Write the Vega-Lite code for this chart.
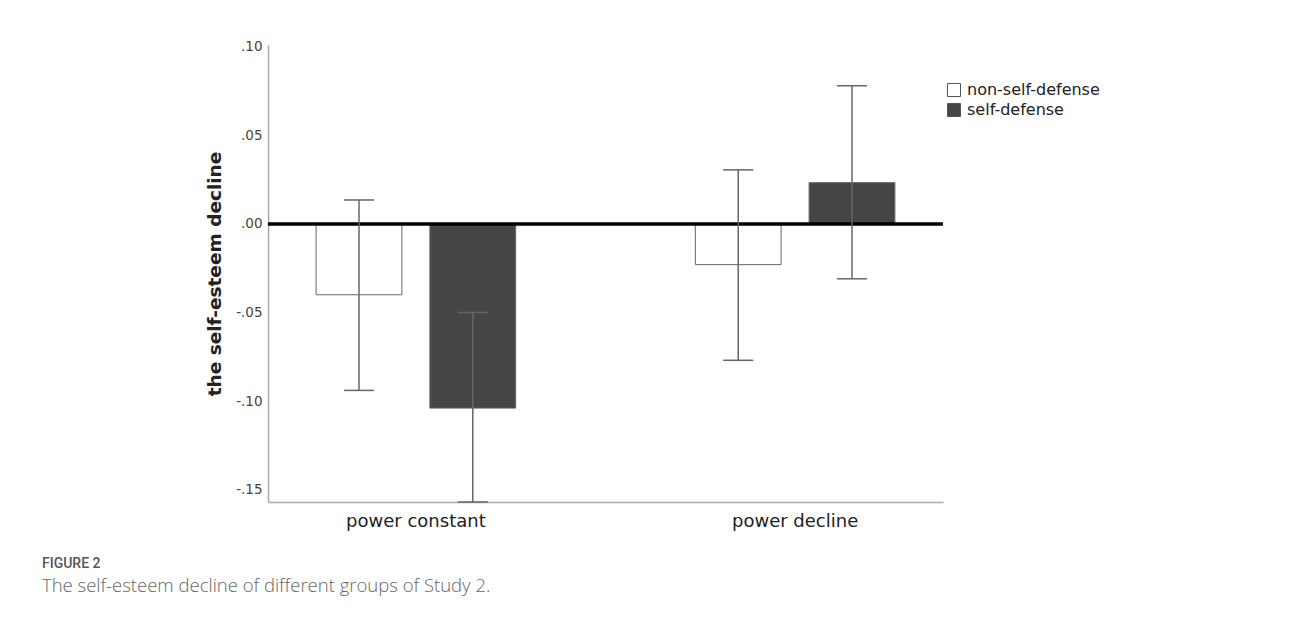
{
  "$schema": "https://vega.github.io/schema/vega-lite/v6.json",
  "width": 675,
  "height": 457,
  "autosize": {"type": "none"},
  "padding": {"left": 268, "top": 45, "right": 348, "bottom": 121},
  "background": "white",
  "data": {
    "values": [
      {"power": "power constant", "group": "non-self-defense", "mean": -0.040, "lo": -0.094, "hi": 0.0135},
      {"power": "power constant", "group": "self-defense", "mean": -0.104, "lo": -0.157, "hi": -0.050},
      {"power": "power decline", "group": "non-self-defense", "mean": -0.023, "lo": -0.077, "hi": 0.0305},
      {"power": "power decline", "group": "self-defense", "mean": 0.0233, "lo": -0.031, "hi": 0.078}
    ]
  },
  "title": {
    "text": "FIGURE 2",
    "subtitle": "The self-esteem decline of different groups of Study 2.",
    "orient": "bottom",
    "anchor": "start",
    "frame": "group",
    "dx": -226,
    "offset": 27,
    "font": "Roboto",
    "fontSize": 14,
    "fontWeight": 500,
    "color": "#555555",
    "subtitleFont": "Open Sans",
    "subtitleFontSize": 18.5,
    "subtitleFontWeight": 300,
    "subtitleColor": "#666666",
    "subtitlePadding": 6
  },
  "layer": [
    {
      "mark": {"type": "bar", "stroke": "#666666", "strokeWidth": 1},
      "encoding": {
        "x": {"field": "power", "type": "nominal", "sort": ["power constant", "power decline"], "scale": {"paddingInner": 0.4, "paddingOuter": 0.09}, "title": null,
          "axis": {"labelFont": "DejaVu Sans", "labelFontSize": 18, "labelFontWeight": 500, "labelColor": "#222222", "labelPadding": 10, "labelAngle": 0, "ticks": false, "domainColor": "#aaaaaa", "domainWidth": 1.5}},
        "xOffset": {"field": "group", "type": "nominal", "sort": ["non-self-defense", "self-defense"], "scale": {"paddingInner": 0.246, "paddingOuter": 0.123}},
        "y": {"field": "mean", "type": "quantitative", "title": "the self-esteem decline", "scale": {"domain": [-0.157, 0.101], "nice": false, "zero": false},
          "axis": {"values": [-0.15, -0.1, -0.05, 0, 0.05, 0.1],
            "labelExpr": "replace(replace(format(datum.value, '.2f'), '0.', '.'), '\u2212', '-')",
            "labelFont": "DejaVu Sans", "labelFontSize": 13.5, "labelColor": "#444444", "labelPadding": 6, "ticks": false, "grid": false,
            "domainColor": "#aaaaaa", "domainWidth": 1.5,
            "titleFont": "DejaVu Sans", "titleFontSize": 18.5, "titleFontWeight": "bold", "titleColor": "#222222", "titlePadding": 11}},
        "color": {
          "field": "group", "type": "nominal",
          "scale": {"domain": ["non-self-defense", "self-defense"], "range": ["#ffffff", "#454545"]},
          "legend": {"title": null, "orient": "none", "legendX": 678, "legendY": 37, "symbolType": "square", "symbolSize": 170, "symbolStrokeColor": "#555555", "symbolStrokeWidth": 1, "labelFont": "DejaVu Sans", "labelFontSize": 16, "labelFontWeight": 500, "labelColor": "#222222", "labelOffset": 5, "rowPadding": 2}
        }
      }
    },
    {
      "data": {"values": [{"z": 0}]},
      "mark": {"type": "rule", "color": "black", "strokeWidth": 3.5},
      "encoding": {"y": {"field": "z", "type": "quantitative", "title": "the self-esteem decline"}}
    },
    {
      "mark": {"type": "rule", "color": "#666666", "strokeWidth": 1.5},
      "encoding": {
        "x": {"field": "power", "type": "nominal", "sort": ["power constant", "power decline"], "title": null},
        "xOffset": {"field": "group", "type": "nominal", "sort": ["non-self-defense", "self-defense"]},
        "y": {"field": "lo", "type": "quantitative", "title": "the self-esteem decline"},
        "y2": {"field": "hi"}
      }
    },
    {
      "mark": {"type": "tick", "color": "#666666", "thickness": 1.5, "size": 30, "opacity": 1},
      "encoding": {
        "x": {"field": "power", "type": "nominal", "sort": ["power constant", "power decline"], "title": null},
        "xOffset": {"field": "group", "type": "nominal", "sort": ["non-self-defense", "self-defense"]},
        "y": {"field": "lo", "type": "quantitative", "title": "the self-esteem decline"}
      }
    },
    {
      "mark": {"type": "tick", "color": "#666666", "thickness": 1.5, "size": 30, "opacity": 1},
      "encoding": {
        "x": {"field": "power", "type": "nominal", "sort": ["power constant", "power decline"], "title": null},
        "xOffset": {"field": "group", "type": "nominal", "sort": ["non-self-defense", "self-defense"]},
        "y": {"field": "hi", "type": "quantitative", "title": "the self-esteem decline"}
      }
    }
  ],
  "config": {
    "view": {"stroke": null},
    "axis": {"grid": false}
  }
}
